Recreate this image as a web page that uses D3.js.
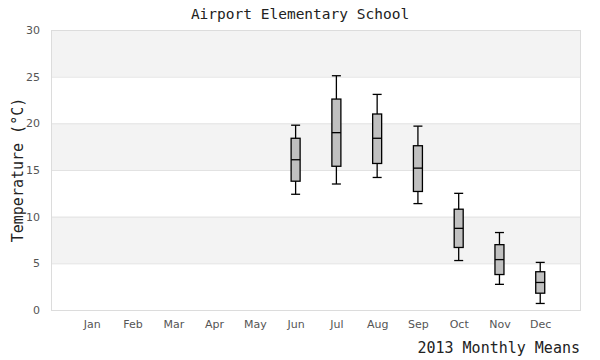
<!DOCTYPE html>
<html><head><meta charset="utf-8">
<script src="https://cdn.jsdelivr.net/npm/d3@7"></script>
<style>body{margin:0;background:#fff}</style>
</head><body>
<svg id="c" width="600" height="360"></svg>
<script>
const months = ["Jan","Feb","Mar","Apr","May","Jun","Jul","Aug","Sep","Oct","Nov","Dec"];
const boxMonths = ["Jun","Jul","Aug","Sep","Oct","Nov","Dec"];
const whiskerLow = [12.4,13.5,14.2,11.4,5.3,2.75,0.7];
const q1 = [13.8,15.4,15.7,12.7,6.7,3.8,1.8];
const median = [16.1,19.0,18.4,15.2,8.75,5.4,2.95];
const q3 = [18.4,22.6,21.0,17.6,10.8,7.0,4.1];
const whiskerHigh = [19.8,25.1,23.1,19.7,12.5,8.3,5.1];
const yTicks = [0,5,10,15,20,25,30];

const svg = d3.select("#c");
const L=51, R=581, T=30, B=310;
const x = d3.scalePoint().domain(months).range([L,R]).padding(1);
const y = d3.scaleLinear().domain([0,30]).range([B,T]);

for (let i=0;i<yTicks.length-1;i++){
  const lo=yTicks[i], hi=yTicks[i+1];
  if (i%2===1) svg.append("rect").attr("x",L).attr("width",R-L).attr("y",y(hi)).attr("height",y(lo)-y(hi)).attr("fill","#f3f3f3");
}
svg.selectAll(".grid").data(yTicks).join("line")
  .attr("x1",L).attr("x2",R).attr("y1",d=>y(d)+0.5).attr("y2",d=>y(d)+0.5)
  .attr("stroke","#e2e2e2");
svg.append("rect").attr("x",L+0.5).attr("y",T+0.5).attr("width",R-L-1).attr("height",B-T).attr("fill","none").attr("stroke","#dcdcdc");

const yAxis = svg.append("g").attr("transform",`translate(${L},0)`).call(d3.axisLeft(y).tickValues(yTicks).tickSize(0).tickPadding(11));
yAxis.select(".domain").remove();
yAxis.selectAll("text").attr("fill","#555").attr("font-family","DejaVu Sans").attr("font-size",11);

const xAxis = svg.append("g").attr("transform",`translate(0,${B})`).call(d3.axisBottom(x).tickSize(0).tickPadding(9));
xAxis.select(".domain").remove();
xAxis.selectAll("text").attr("fill","#555").attr("font-family","DejaVu Sans").attr("font-size",11).attr("dy","0.8em");

const data = boxMonths.map((m,i)=>({m,lo:whiskerLow[i],q1:q1[i],med:median[i],q3:q3[i],hi:whiskerHigh[i]}));
const bw=9, cw=9;
const g = svg.selectAll(".box").data(data).join("g").attr("stroke","#000").attr("stroke-width",1.3);
g.append("line").attr("x1",d=>x(d.m)).attr("x2",d=>x(d.m)).attr("y1",d=>y(d.hi)).attr("y2",d=>y(d.lo));
g.append("line").attr("x1",d=>x(d.m)-cw/2).attr("x2",d=>x(d.m)+cw/2).attr("y1",d=>y(d.hi)).attr("y2",d=>y(d.hi));
g.append("line").attr("x1",d=>x(d.m)-cw/2).attr("x2",d=>x(d.m)+cw/2).attr("y1",d=>y(d.lo)).attr("y2",d=>y(d.lo));
g.append("rect").attr("x",d=>x(d.m)-bw/2).attr("width",bw).attr("y",d=>y(d.q3)).attr("height",d=>y(d.q1)-y(d.q3)).attr("fill","#c0c0c0");
g.append("line").attr("x1",d=>x(d.m)-bw/2).attr("x2",d=>x(d.m)+bw/2).attr("y1",d=>y(d.med)).attr("y2",d=>y(d.med));

svg.append("text").attr("x",300).attr("y",19).attr("text-anchor","middle")
  .attr("font-family","DejaVu Sans Mono").attr("font-size",14.5).attr("fill","#222").text("Airport Elementary School");
svg.append("text").attr("transform","translate(23,170) rotate(-90)").attr("text-anchor","middle")
  .attr("font-family","DejaVu Sans Mono").attr("font-size",15).attr("fill","#222").text("Temperature (°C)");
svg.append("text").attr("x",580).attr("y",353).attr("text-anchor","end")
  .attr("font-family","DejaVu Sans Mono").attr("font-size",15).attr("fill","#222").text("2013 Monthly Means");
</script>
</body></html>
